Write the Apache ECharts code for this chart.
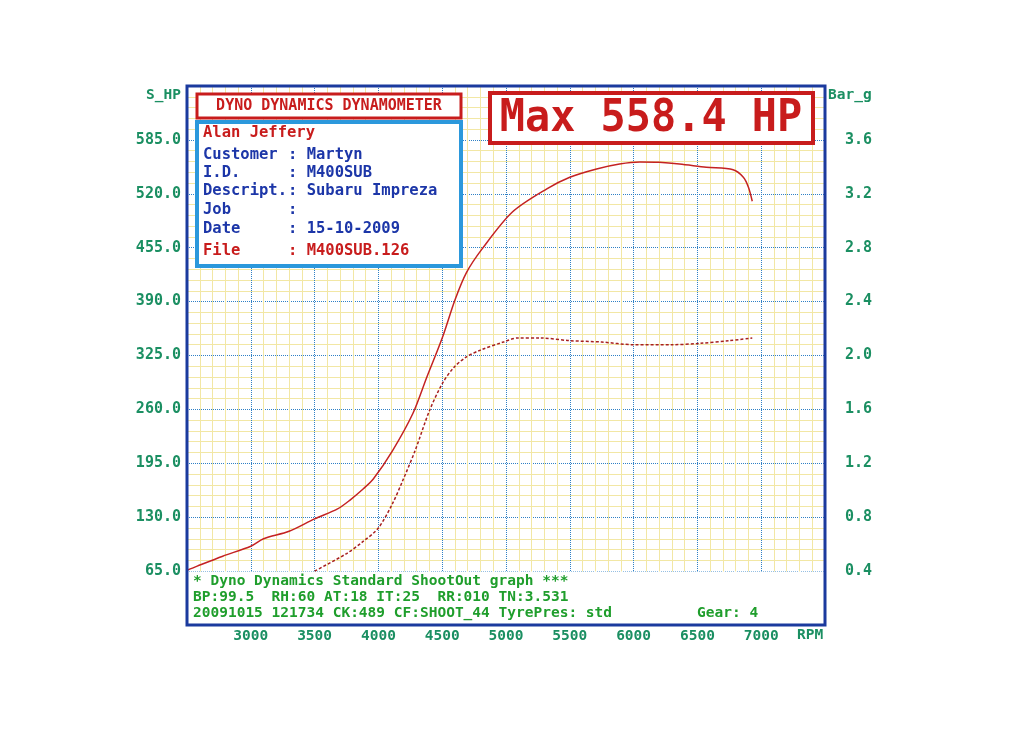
<!DOCTYPE html>
<html>
<head>
<meta charset="utf-8">
<script src="https://cdn.jsdelivr.net/npm/echarts@6/dist/echarts.min.js"></script>
<style>
  html, body { margin: 0; padding: 0; background: #ffffff; }
  #dyno-chart { width: 1024px; height: 743px; }
</style>
</head>
<body>
<div id="dyno-chart"></div>
<script>
// power curve (S_HP, left axis)
var powerRpm = [2500, 2580, 2780, 3000, 3100, 3300, 3500, 3680, 3780, 3880, 3960, 4110, 4270, 4380, 4500, 4600, 4690, 4810, 5050, 5320, 5500, 5710, 5890, 6050, 6200, 6360, 6570, 6780, 6860, 6900, 6930];
var powerHp  = [66, 71, 83, 95, 104, 113, 128, 140, 151, 164, 176, 210, 255, 299, 346, 392, 425, 453, 498, 526, 540, 550, 556, 558.4, 558, 556, 552, 549, 540, 528, 511];

// boost curve (Bar_g, right axis)
var boostRpm = [3500, 3750, 3880, 4000, 4110, 4190, 4290, 4400, 4500, 4590, 4690, 4800, 4980, 5090, 5270, 5500, 5750, 6000, 6300, 6520, 6750, 6930];
var boostBar = [0.40, 0.53, 0.62, 0.72, 0.90, 1.07, 1.30, 1.59, 1.79, 1.91, 1.99, 2.04, 2.10, 2.13, 2.13, 2.11, 2.10, 2.08, 2.08, 2.09, 2.11, 2.13];

var infoLabels = ['Customer', 'I.D.', 'Descript.', 'Job', 'Date', 'File'];
var infoValues = ['Martyn', 'M400SUB', 'Subaru Impreza', '', '15-10-2009', 'M400SUB.126'];
var footLines = [
  '* Dyno Dynamics Standard ShootOut graph ***',
  'BP:99.5  RH:60 AT:18 IT:25  RR:010 TN:3.531',
  '20091015 121734 CK:489 CF:SHOOT_44 TyrePres: std'
];

var mono = '"DejaVu Sans Mono", "Liberation Mono", monospace';
var axisGreen = '#1b8f62';
var footGreen = '#1f9e2c';
var red = '#c81c1c';
var navy = '#1c36a8';

function zip(xs, ys) {
  return xs.map(function (x, i) { return [x, ys[i]]; });
}

var graphics = [];
// plot border
graphics.push({ type: 'rect', z: 100, shape: { x: 187, y: 86, width: 638, height: 539 },
  style: { fill: null, stroke: '#1b3a9e', lineWidth: 3 } });
// title box
graphics.push({ type: 'rect', z: 100, shape: { x: 197, y: 94, width: 264, height: 24 },
  style: { fill: '#fff', stroke: red, lineWidth: 3 } });
graphics.push({ type: 'text', z: 101, x: 329, y: 106,
  style: { text: 'DYNO DYNAMICS DYNAMOMETER', fill: red, font: 'bold 15px ' + mono, align: 'center', verticalAlign: 'middle' } });
// info box
graphics.push({ type: 'rect', z: 100, shape: { x: 197, y: 122, width: 264, height: 144 },
  style: { fill: '#fff', stroke: '#2b98dc', lineWidth: 4 } });
graphics.push({ type: 'text', z: 101, x: 203, y: 133,
  style: { text: 'Alan Jeffery', fill: red, font: 'bold 15.5px ' + mono, verticalAlign: 'middle' } });
var lineY = [155, 173, 191, 210, 229, 251];
infoLabels.forEach(function (lab, i) {
  var col = lab === 'File' ? red : navy;
  graphics.push({ type: 'text', z: 101, x: 203, y: lineY[i],
    style: { text: lab, fill: col, font: 'bold 15.5px ' + mono, verticalAlign: 'middle' } });
  graphics.push({ type: 'text', z: 101, x: 288, y: lineY[i],
    style: { text: ': ' + infoValues[i], fill: col, font: 'bold 15.5px ' + mono, verticalAlign: 'middle' } });
});
// max box
graphics.push({ type: 'rect', z: 100, shape: { x: 490, y: 93, width: 323, height: 50 },
  style: { fill: '#fff', stroke: red, lineWidth: 4 } });
graphics.push({ type: 'text', z: 101, x: 651, y: 119, scaleX: 0.93,
  style: { text: 'Max 558.4 HP', fill: red, font: 'bold 45px ' + mono, align: 'center', verticalAlign: 'middle' } });
// footer text
var footY = [581, 597, 613];
footLines.forEach(function (t, i) {
  graphics.push({ type: 'text', z: 101, x: 193, y: footY[i],
    style: { text: t, fill: footGreen, font: 'bold 14.5px ' + mono, verticalAlign: 'middle' } });
});
graphics.push({ type: 'text', z: 101, x: 697, y: 613,
  style: { text: 'Gear: 4', fill: footGreen, font: 'bold 14.5px ' + mono, verticalAlign: 'middle' } });
// axis names
graphics.push({ type: 'text', z: 101, x: 181, y: 95,
  style: { text: 'S_HP', fill: axisGreen, font: 'bold 14.5px ' + mono, align: 'right', verticalAlign: 'middle' } });
graphics.push({ type: 'text', z: 101, x: 828, y: 95,
  style: { text: 'Bar_g', fill: axisGreen, font: 'bold 14.5px ' + mono, verticalAlign: 'middle' } });
graphics.push({ type: 'text', z: 101, x: 797, y: 635,
  style: { text: 'RPM', fill: axisGreen, font: 'bold 14.5px ' + mono, verticalAlign: 'middle' } });

var labelStyle = { color: axisGreen, fontFamily: mono, fontWeight: 'bold', fontSize: 15 };

var myChart = echarts.init(document.getElementById('dyno-chart'));
var option = {
  backgroundColor: '#ffffff',
  animation: false,
  grid: { left: 187, right: 199, top: 86, bottom: 118 },
  xAxis: {
    type: 'value', min: 2500, max: 7500, interval: 500,
    axisLine: { show: false }, axisTick: { show: false },
    axisLabel: Object.assign({ margin: 4, fontSize: 14.5, formatter: function (v) {
      return (v <= 2500 || v >= 7500) ? '' : String(v);
    } }, labelStyle, { fontSize: 14.5 }),
    splitLine: { show: true, lineStyle: { color: '#2f80c6', type: 'dotted', width: 1 } },
    minorTick: { show: false, splitNumber: 5 },
    minorSplitLine: { show: true, lineStyle: { color: '#f2e7a4', width: 1 } }
  },
  yAxis: [
    {
      type: 'value', min: 0, max: 650, interval: 65,
      axisLine: { show: false }, axisTick: { show: false },
      axisLabel: Object.assign({ margin: 6, formatter: function (v) {
        return (v <= 0 || v >= 650) ? '' : v.toFixed(1);
      } }, labelStyle),
      splitLine: { show: true, lineStyle: { color: '#2f80c6', type: 'dotted', width: 1 } },
      minorTick: { show: false, splitNumber: 5 },
      minorSplitLine: { show: true, lineStyle: { color: '#f2e7a4', width: 1 } }
    },
    {
      type: 'value', min: 0, max: 4, interval: 0.4, position: 'right',
      axisLine: { show: false }, axisTick: { show: false }, splitLine: { show: false },
      axisLabel: Object.assign({ margin: 20, formatter: function (v) {
        return (v <= 0.01 || v >= 3.99) ? '' : v.toFixed(1);
      } }, labelStyle)
    }
  ],
  series: [
    {
      name: 'S_HP', type: 'line', yAxisIndex: 0, showSymbol: false, smooth: 0.3,
      data: zip(powerRpm, powerHp),
      lineStyle: { color: '#c42222', width: 1.5 },
      markArea: {
        silent: true,
        itemStyle: { color: '#ffffff', opacity: 1 },
        data: [[{ yAxis: 0 }, { yAxis: 64.5 }]]
      }
    },
    {
      name: 'Bar_g', type: 'line', yAxisIndex: 1, showSymbol: false, smooth: 0.3,
      data: zip(boostRpm, boostBar),
      lineStyle: { color: '#a82020', width: 1.5, type: [3, 2] }
    }
  ],
  graphic: graphics
};
myChart.setOption(option);
</script>
</body>
</html>
